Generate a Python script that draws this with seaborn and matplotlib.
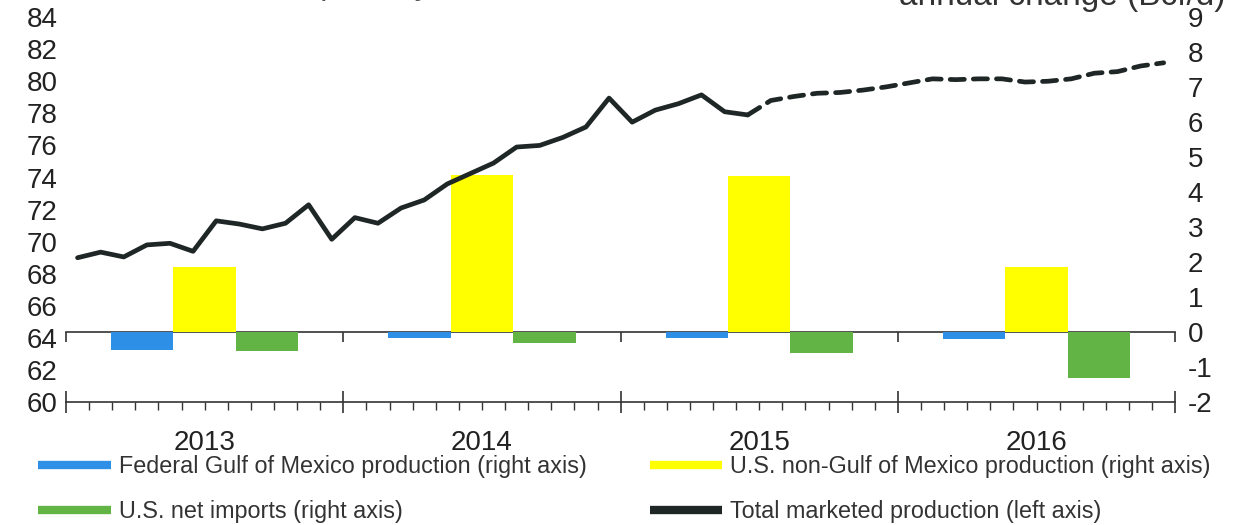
import numpy as np
import pandas as pd
import seaborn as sns
import matplotlib.pyplot as plt
from matplotlib.lines import Line2D
from matplotlib.ticker import MultipleLocator, NullLocator

# Total marketed production, monthly Jan 2013 - Dec 2016 (Bcf/d), left axis
total_production = [
    69.0, 69.35, 69.05, 69.8, 69.9, 69.4, 71.3, 71.1, 70.8, 71.15, 72.3, 70.15,   # 2013
    71.5, 71.15, 72.1, 72.6, 73.6, 74.25, 74.9, 75.9, 76.0, 76.5, 77.15, 78.95,   # 2014
    77.45, 78.2, 78.6, 79.15, 78.1, 77.9, 78.8, 79.05, 79.25, 79.3, 79.45, 79.65,  # 2015
    79.9, 80.15, 80.1, 80.15, 80.15, 79.95, 80.0, 80.15, 80.5, 80.6, 80.95, 81.15,  # 2016
]
last_actual = 29  # Jun 2015, forecast (dashed) after this month

# Annual change (Bcf/d), right axis
years = [2013, 2014, 2015, 2016]
gom_change = [-0.5, -0.18, -0.18, -0.2]
non_gom_change = [1.85, 4.5, 4.45, 1.85]
net_imports_change = [-0.55, -0.3, -0.6, -1.3]

series_names = [
    'Federal Gulf of Mexico production (right axis)',
    'U.S. non-Gulf of Mexico production (right axis)',
    'U.S. net imports (right axis)',
]
line_name = 'Total marketed production (left axis)'
colors = ['#2e8fe6', '#ffff00', '#62b544']
line_color = '#1f2626'

sns.set_style('white')
plt.rcParams['font.family'] = ['Liberation Sans', 'DejaVu Sans']
plt.rcParams['axes.unicode_minus'] = False

# month index as x, bars at the middle of each year
months = np.arange(len(total_production)) + 0.5
line_df = pd.DataFrame({'month': months, 'value': total_production})
year_mid = [(y - years[0]) * 12 + 6 for y in years]
bars = pd.DataFrame({
    'year_mid': year_mid * 3,
    'series': np.repeat(series_names, len(years)),
    'value': gom_change + non_gom_change + net_imports_change,
})

fig = plt.figure(figsize=(12.38, 5.25), dpi=100)
ax = fig.add_axes([0.0533, 0.234, 0.896, 0.7335])
ax2 = ax.twinx()
ax.set_zorder(ax2.get_zorder() + 1)
ax.patch.set_visible(False)

sns.barplot(data=bars, x='year_mid', y='value', hue='series', hue_order=series_names,
            palette=colors, native_scale=True, width=0.675, gap=0, saturation=1,
            edgecolor='none', legend=False, ax=ax2)

sns.lineplot(data=line_df.iloc[:last_actual + 1], x='month', y='value', color=line_color,
             lw=3.4, ax=ax)
sns.lineplot(data=line_df.iloc[last_actual:], x='month', y='value', color=line_color,
             lw=3.4, ax=ax, linestyle=(0, (3.0, 1.9)), dash_capstyle='round')

ax.set_xlim(0, 48)
ax.set_ylim(60, 84)
ax2.set_ylim(-2, 9)
ax.set_yticks(range(60, 85, 2))
ax2.set_yticks(range(-2, 10))
ax.set_xlabel('')
ax.set_ylabel('')
ax2.set_xlabel('')
ax2.set_ylabel('')

for s in ['top', 'left', 'right']:
    ax.spines[s].set_visible(False)
for s in ['top', 'left', 'right', 'bottom']:
    ax2.spines[s].set_visible(False)
ax.spines['bottom'].set_linewidth(1.2)
ax.spines['bottom'].set_color('#333333')

ax.xaxis.set_major_locator(MultipleLocator(12))
ax.xaxis.set_minor_locator(MultipleLocator(1))
ax.tick_params(axis='x', which='major', bottom=True, direction='inout', length=16, width=1.2,
               color='#333333', labelbottom=False)
ax.tick_params(axis='x', which='minor', bottom=True, direction='out', length=6, width=1.0,
               color='#333333')
ax.tick_params(axis='y', length=0, labelsize=20, pad=6, labelcolor='#222222')
ax2.tick_params(axis='y', length=0, labelsize=20, pad=9, labelcolor='#222222')
ax2.tick_params(axis='x', bottom=False, labelbottom=False)

# year labels centred in each year
sec = ax.secondary_xaxis('bottom')
sec.set_xticks(year_mid, [str(y) for y in years])
sec.tick_params(length=0, pad=20, labelsize=20, labelcolor='#222222')
sec.spines['bottom'].set_visible(False)

# zero line of the right axis with year ticks
zero = ax2.secondary_xaxis(2 / 11)
zero.xaxis.set_major_locator(MultipleLocator(12))
zero.xaxis.set_minor_locator(NullLocator())
zero.tick_params(bottom=True, direction='out', length=7, width=1.2, color='#333333',
                 labelbottom=False)
zero.spines['bottom'].set_linewidth(1.2)
zero.spines['bottom'].set_color('#333333')

# titles, mostly cut off at the top edge as in the source image
fig.text(0.06, 1 + 6 / 525, 'billion cubic feet per day', fontsize=24, va='baseline',
         color='#555555')
fig.text(0.99, 1 - 5 / 525, 'annual change (Bcf/d)', fontsize=24, va='baseline', ha='right',
         color='#333333')

# legend in two columns
def handle(c):
    return Line2D([], [], color=c, lw=6, solid_capstyle='butt')

legend_kw = dict(loc='upper left', frameon=False, fontsize=16.8, handlelength=3.1,
                 handletextpad=0.35, labelspacing=0.93, borderaxespad=0, borderpad=0)
leg1 = fig.legend([handle(colors[0]), handle(colors[2])], [series_names[0], series_names[2]],
                  bbox_to_anchor=(0.031, 0.133), **legend_kw)
leg2 = fig.legend([handle(colors[1]), handle(line_color)], [series_names[1], line_name],
                  bbox_to_anchor=(0.525, 0.133), **legend_kw)
for t in leg1.get_texts() + leg2.get_texts():
    t.set_color('#333333')

fig.savefig('out.png', dpi=100)
